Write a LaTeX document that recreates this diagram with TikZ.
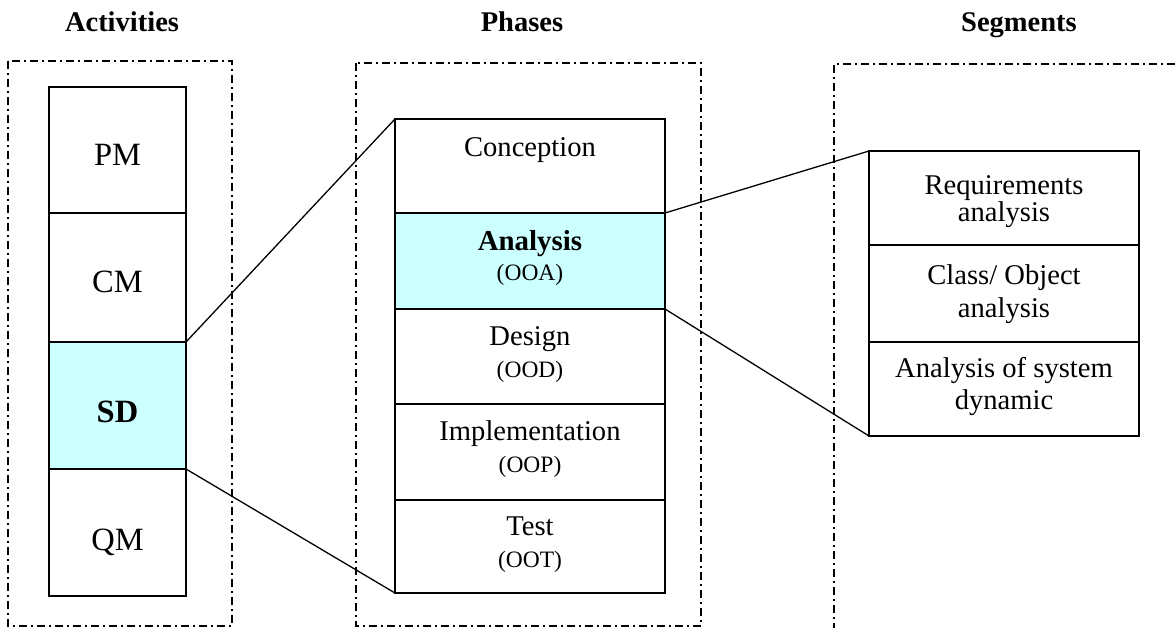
\documentclass[tikz,border=0pt]{standalone}
\usepackage{fontspec}
\setmainfont{Liberation Serif}
\definecolor{hilite}{RGB}{204,255,255}
\begin{document}
\begin{tikzpicture}[x=1pt,y=-1pt,
  blk/.style={draw=black, line width=1.3pt, fill=white, inner sep=0pt, outer sep=0pt, anchor=north west},
  hl/.style={fill=hilite},
  frame/.style={draw=black, line width=1.5pt, dash pattern=on 8pt off 4pt on 2pt off 4pt},
  conn/.style={draw=black, line width=1.3pt},
  sepline/.style={draw=black, line width=2.8pt},
  txt/.style={anchor=base, inner sep=0pt, outer sep=0pt},
  ttl/.style={txt, font=\fontsize{28.5}{34}\selectfont\bfseries},
  bigtxt/.style={txt, font=\fontsize{32.5}{39}\selectfont},
  midtxt/.style={txt, font=\fontsize{28.6}{34}\selectfont},
  smtxt/.style={txt, font=\fontsize{23.5}{28}\selectfont},
  rtxt/.style={anchor=center, align=center, inner sep=0pt, font=\fontsize{28.6}{32}\selectfont}]
\useasboundingbox (0,0) rectangle (1175,628);

% titles
\node[ttl] (t1) at (122,32) {Activities};
\node[ttl] (t2) at (522,32) {Phases};
\node[ttl] (t3) at (1019,32) {Segments};

% dash-dot frames
\draw[frame] (8,61) rectangle (232,626);
\draw[frame] (356,63) rectangle (701,626);
\draw[frame] (1175,64) -- (834,64) -- (834,628);

% left column
\node[blk, minimum width=137pt, minimum height=126pt] (PM) at (49,87) {};
\node[blk, minimum width=137pt, minimum height=129pt] (CM) at (49,213) {};
\node[blk, hl, minimum width=137pt, minimum height=127pt] (SD) at (49,342) {};
\node[blk, minimum width=137pt, minimum height=127pt] (QM) at (49,469) {};
\node[bigtxt] (PMt) at (117.5,166) {PM};
\node[bigtxt] (CMt) at (117.5,293) {CM};
\node[bigtxt, font=\fontsize{32.5}{39}\selectfont\bfseries] (SDt) at (117.5,422) {SD};
\node[bigtxt] (QMt) at (117.5,550) {QM};

% middle column
\node[blk, minimum width=270pt, minimum height=94pt] (Con) at (395,119) {};
\node[blk, hl, minimum width=270pt, minimum height=96pt] (Ana) at (395,213) {};
\node[blk, minimum width=270pt, minimum height=95pt] (Des) at (395,309) {};
\node[blk, minimum width=270pt, minimum height=96pt] (Imp) at (395,404) {};
\node[blk, minimum width=270pt, minimum height=93pt] (Tst) at (395,500) {};
\node[midtxt] (Cont) at (530,157) {Conception};
\node[midtxt, font=\fontsize{28.9}{34}\selectfont\bfseries] (Anat) at (530,251) {Analysis};
\node[smtxt] (Anas) at (530,280) {(OOA)};
\node[midtxt] (Dest) at (530,345) {Design};
\node[smtxt] (Dess) at (530,377) {(OOD)};
\node[midtxt] (Impt) at (530,440) {Implementation};
\node[smtxt] (Imps) at (530,472) {(OOP)};
\node[midtxt] (Tstt) at (530,535) {Test};
\node[smtxt] (Tsts) at (530,567) {(OOT)};

% right column
\node[blk, minimum width=270pt, minimum height=94pt] (Req) at (869,151) {};
\node[blk, minimum width=270pt, minimum height=97pt] (Cls) at (869,245) {};
\node[blk, minimum width=270pt, minimum height=94pt] (Dyn) at (869,342) {};
\node[txt, font=\fontsize{28.6}{34}\selectfont] (Reqa) at (1004,195) {Requirements};
\node[txt, font=\fontsize{28.6}{34}\selectfont] (Reqb) at (1004,222) {analysis};
\node[txt, font=\fontsize{28.6}{34}\selectfont] (Clsa) at (1004,285) {Class/ Object};
\node[txt, font=\fontsize{28.6}{34}\selectfont] (Clsb) at (1004,317) {analysis};
\node[txt, font=\fontsize{28.6}{34}\selectfont] (Dyna) at (1004,377) {Analysis of system};
\node[txt, font=\fontsize{28.6}{34}\selectfont] (Dynb) at (1004,409) {dynamic};

% separators
\draw[sepline] (PM.south west) -- (PM.south east);
\draw[sepline] (CM.south west) -- (CM.south east);
\draw[sepline] (SD.south west) -- (SD.south east);
\draw[sepline] (Con.south west) -- (Con.south east);
\draw[sepline] (Ana.south west) -- (Ana.south east);
\draw[sepline] (Des.south west) -- (Des.south east);
\draw[sepline] (Imp.south west) -- (Imp.south east);
\draw[sepline] (Req.south west) -- (Req.south east);
\draw[sepline] (Cls.south west) -- (Cls.south east);

% connectors
\draw[conn] (SD.north east) -- (Con.north west);
\draw[conn] (SD.south east) -- (Tst.south west);
\draw[conn] (Ana.north east) -- (Req.north west);
\draw[conn] (Ana.south east) -- (Dyn.south west);
\end{tikzpicture}
\end{document}
